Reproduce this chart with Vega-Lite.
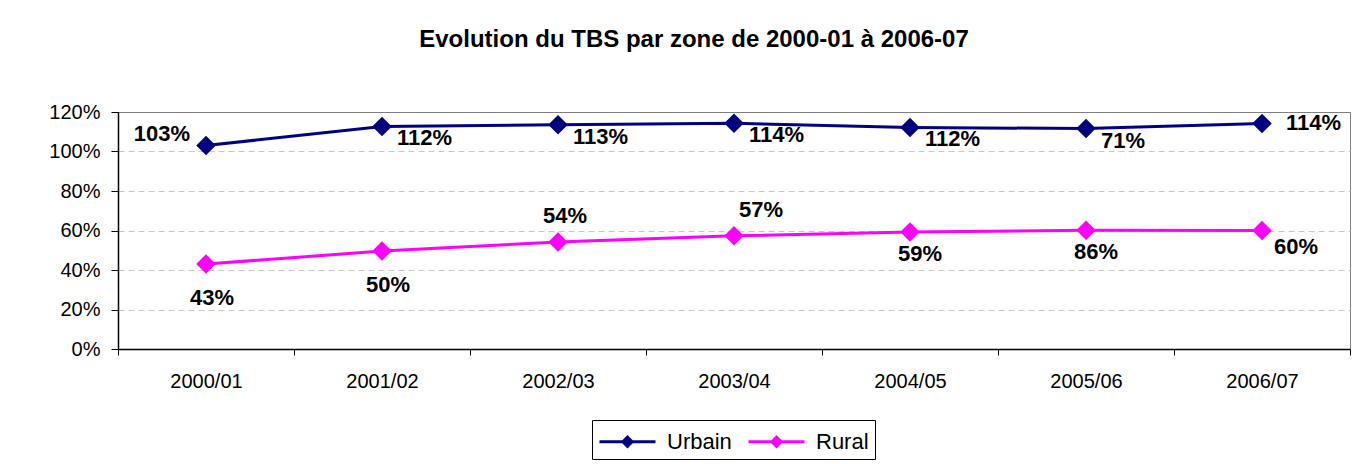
{
  "$schema": "https://vega.github.io/schema/vega-lite/v6.json",
  "width": 1232,
  "height": 237,
  "autosize": {"type": "none"},
  "padding": {"left": 118, "top": 112, "right": 14, "bottom": 115},
  "background": "white",
  "title": {
    "text": "Evolution du TBS par zone de 2000-01 à 2006-07",
    "font": "Liberation Sans",
    "fontSize": 24,
    "fontWeight": "bold",
    "color": "#000000",
    "anchor": "middle",
    "dx": -40,
    "offset": 50
  },
  "data": {
    "values": [
      {"annee": "2000/01", "zone": "Urbain", "tbs": 103, "label": "103%"},
      {"annee": "2001/02", "zone": "Urbain", "tbs": 112.7, "label": "112%"},
      {"annee": "2002/03", "zone": "Urbain", "tbs": 113.5, "label": "113%"},
      {"annee": "2003/04", "zone": "Urbain", "tbs": 114.3, "label": "114%"},
      {"annee": "2004/05", "zone": "Urbain", "tbs": 112.2, "label": "112%"},
      {"annee": "2005/06", "zone": "Urbain", "tbs": 111.6, "label": "71%"},
      {"annee": "2006/07", "zone": "Urbain", "tbs": 114.2, "label": "114%"},
      {"annee": "2000/01", "zone": "Rural", "tbs": 43, "label": "43%"},
      {"annee": "2001/02", "zone": "Rural", "tbs": 49.6, "label": "50%"},
      {"annee": "2002/03", "zone": "Rural", "tbs": 54.2, "label": "54%"},
      {"annee": "2003/04", "zone": "Rural", "tbs": 57.3, "label": "57%"},
      {"annee": "2004/05", "zone": "Rural", "tbs": 59.3, "label": "59%"},
      {"annee": "2005/06", "zone": "Rural", "tbs": 60.1, "label": "86%"},
      {"annee": "2006/07", "zone": "Rural", "tbs": 60, "label": "60%"}
    ]
  },
  "encoding": {
    "x": {
      "field": "annee",
      "type": "ordinal",
      "title": null,
      "scale": {"paddingInner": 0, "paddingOuter": 0},
      "axis": {
        "labelAngle": 0,
        "labelFont": "Liberation Sans",
        "labelFontSize": 20,
        "labelColor": "#000000",
        "labelPadding": 16,
        "tickBand": "extent",
        "tickSize": 6,
        "tickColor": "#000000",
        "domainColor": "#000000",
        "domainWidth": 1.5,
        "grid": false
      }
    },
    "y": {
      "field": "tbs",
      "type": "quantitative",
      "title": null,
      "scale": {"domain": [0, 120], "nice": false, "zero": true},
      "axis": {
        "values": [0, 20, 40, 60, 80, 100, 120],
        "labelExpr": "datum.value + '%'",
        "labelFont": "Liberation Sans",
        "labelFontSize": 20,
        "labelColor": "#000000",
        "labelPadding": 11,
        "tickSize": 7,
        "tickColor": "#000000",
        "domainColor": "#000000",
        "domainWidth": 1.5,
        "grid": true,
        "gridColor": {"condition": {"test": "datum.value === 120", "value": "#808080"}, "value": "#c8c8c8"},
        "gridDash": [6, 4],
        "gridWidth": 1
      }
    },
    "color": {
      "field": "zone",
      "type": "nominal",
      "scale": {"domain": ["Urbain", "Rural"], "range": ["#000080", "#ff00ff"]},
      "legend": {
        "title": null,
        "orient": "none",
        "direction": "horizontal",
        "legendX": 474,
        "legendY": 308,
        "strokeColor": "#000000",
        "padding": 6,
        "labelFont": "Liberation Sans",
        "labelFontSize": 22,
        "labelColor": "#000000",
        "labelOffset": 38,
        "columnPadding": 10,
        "symbolType": "M-1,0L3,0M0.67,0L1,-0.33L1.33,0L1,0.33Z",
        "symbolSize": 784,
        "symbolStrokeWidth": 3,
        "symbolOpacity": 1
      }
    }
  },
  "layer": [
    {"mark": {"type": "line", "strokeWidth": 3}},
    {"mark": {"type": "point", "shape": "diamond", "filled": true, "size": 380, "opacity": 1}},
    {
      "transform": [{"filter": "datum.zone === 'Urbain' && datum.annee === '2000/01'"}],
      "mark": {"type": "text", "font": "Liberation Sans", "fontSize": 22, "fontWeight": "bold", "align": "center", "baseline": "middle", "dx": -44, "dy": -12},
      "encoding": {"text": {"field": "label"}, "color": {"value": "#000000"}}
    },
    {
      "transform": [{"filter": "datum.zone === 'Urbain' && datum.annee !== '2000/01' && datum.annee !== '2006/07'"}],
      "mark": {"type": "text", "font": "Liberation Sans", "fontSize": 22, "fontWeight": "bold", "align": "left", "baseline": "middle", "dx": 15, "dy": 12},
      "encoding": {"text": {"field": "label"}, "color": {"value": "#000000"}}
    },
    {
      "transform": [{"filter": "datum.zone === 'Urbain' && datum.annee === '2006/07'"}],
      "mark": {"type": "text", "font": "Liberation Sans", "fontSize": 22, "fontWeight": "bold", "align": "left", "baseline": "middle", "dx": 24, "dy": 0},
      "encoding": {"text": {"field": "label"}, "color": {"value": "#000000"}}
    },
    {
      "transform": [{"filter": "datum.zone === 'Rural' && (datum.annee === '2000/01' || datum.annee === '2001/02')"}],
      "mark": {"type": "text", "font": "Liberation Sans", "fontSize": 22, "fontWeight": "bold", "align": "center", "baseline": "middle", "dx": 6, "dy": 34},
      "encoding": {"text": {"field": "label"}, "color": {"value": "#000000"}}
    },
    {
      "transform": [{"filter": "datum.zone === 'Rural' && datum.annee === '2002/03'"}],
      "mark": {"type": "text", "font": "Liberation Sans", "fontSize": 22, "fontWeight": "bold", "align": "center", "baseline": "middle", "dx": 7, "dy": -26},
      "encoding": {"text": {"field": "label"}, "color": {"value": "#000000"}}
    },
    {
      "transform": [{"filter": "datum.zone === 'Rural' && datum.annee === '2003/04'"}],
      "mark": {"type": "text", "font": "Liberation Sans", "fontSize": 22, "fontWeight": "bold", "align": "center", "baseline": "middle", "dx": 27, "dy": -26},
      "encoding": {"text": {"field": "label"}, "color": {"value": "#000000"}}
    },
    {
      "transform": [{"filter": "datum.zone === 'Rural' && (datum.annee === '2004/05' || datum.annee === '2005/06')"}],
      "mark": {"type": "text", "font": "Liberation Sans", "fontSize": 22, "fontWeight": "bold", "align": "center", "baseline": "middle", "dx": 10, "dy": 22},
      "encoding": {"text": {"field": "label"}, "color": {"value": "#000000"}}
    },
    {
      "transform": [{"filter": "datum.zone === 'Rural' && datum.annee === '2006/07'"}],
      "mark": {"type": "text", "font": "Liberation Sans", "fontSize": 22, "fontWeight": "bold", "align": "center", "baseline": "middle", "dx": 34, "dy": 16},
      "encoding": {"text": {"field": "label"}, "color": {"value": "#000000"}}
    }
  ],
  "config": {
    "view": {"stroke": "#808080", "strokeWidth": 1}
  }
}
